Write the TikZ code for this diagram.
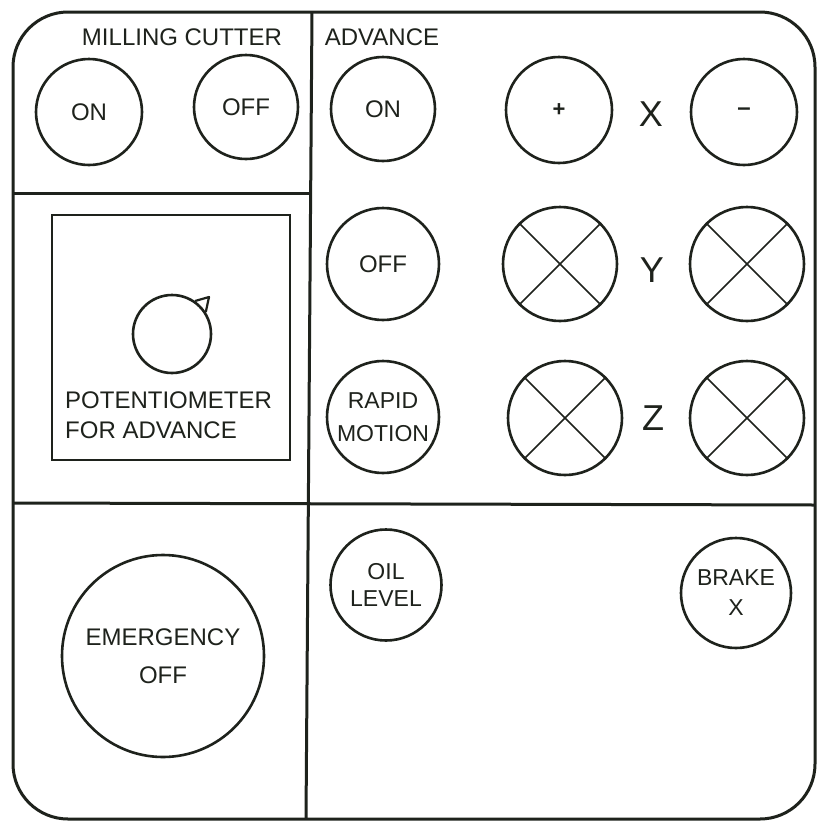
\documentclass[tikz,border=0pt]{standalone}
\usepackage{fontspec}
\setmainfont{Liberation Sans}
\definecolor{inkc}{RGB}{30,34,28}
\newcommand\lblfont{\fontsize{24}{28}\selectfont}
\newcommand\axfont{\fontsize{36}{40}\selectfont}
\begin{document}
\begin{tikzpicture}[x=1pt,y=-1pt,
  frame/.style={draw=inkc, line width=3pt},
  btn/.style={circle, draw=inkc, line width=2.6pt, inner sep=0pt, align=center, text=inkc, font=\lblfont},
  crossl/.style={draw=inkc, line width=1.5pt},
  lbl/.style={text=inkc, font=\lblfont, inner sep=0pt},
  axlbl/.style={text=inkc, font=\axfont, inner sep=0pt}]
\useasboundingbox (0,0) rectangle (820,823);
\fill[white] (0,0) rectangle (820,823);

% outer panel
\draw[frame, rounded corners=55pt] (13,12) rectangle (815,819);

% dividers
\coordinate (vt) at (312,12);
\coordinate (vb) at (306,819);
\coordinate (hl) at (13,503);
\coordinate (hr) at (815,505);
\coordinate (ml) at (13,193);
\coordinate (mr) at (311,193);
\draw[frame] (vt) -- (vb);
\draw[frame] (hl) -- (hr);
\draw[frame] (ml) -- (mr);

% milling cutter
\node[lbl] (mc) at (182,37) {MILLING CUTTER};
\node[btn, minimum size=106] (mon) at (89,112) {ON};
\node[btn, minimum size=104] (moff) at (246,107) {OFF};

% advance
\node[lbl] (adv) at (382,37) {ADVANCE};
\node[btn, minimum size=104] (aon) at (383,109) {ON};
\node[btn, minimum size=106, font=\fontsize{22}{26}\selectfont\bfseries] (xp) at (559,110) {+};
\node[axlbl] (xl) at (651,114) {X};
\node[btn, minimum size=106, font=\fontsize{24}{26}\selectfont\bfseries] (xm) at (744,112) {--};

\node[btn, minimum size=112] (aoff) at (383,264) {OFF};
\node[btn, minimum size=114] (yp) at (560,264) {};
\node[axlbl] (yl) at (652,270) {Y};
\node[btn, minimum size=114] (ym) at (747,264) {};

\node[btn, minimum size=112, font=\fontsize{23}{33}\selectfont] (rapid) at (383,417) {RAPID\\MOTION};
\node[btn, minimum size=114] (zp) at (565,418) {};
\node[axlbl] (zl) at (653,418) {Z};
\node[btn, minimum size=114] (zm) at (747,418) {};

\foreach \n in {yp,ym,zp,zm}{
  \draw[crossl] (\n.45) -- (\n.225);
  \draw[crossl] (\n.135) -- (\n.315);
}

% potentiometer
\node[draw=inkc, line width=2.8pt, minimum width=238, minimum height=245, inner sep=0pt] (pot) at (171,337.5) {};
\node[circle, draw=inkc, line width=2.6pt, minimum size=78, inner sep=0pt] (knob) at (172,334) {};
\coordinate (tip) at (209,297);
\draw[draw=inkc, line width=2.2pt, line join=round] (knob.55) -- (tip) -- (knob.33);
\node[lbl, anchor=base west] (pt1) at (65,408) {POTENTIOMETER};
\node[lbl, anchor=base west] (pt2) at (65,438) {FOR ADVANCE};

% emergency
\node[btn, minimum size=202, font=\fontsize{24}{38}\selectfont] (emg) at (163,656) {EMERGENCY\\OFF};

% oil level, brake
\node[btn, minimum size=111, font=\fontsize{23}{27}\selectfont] (oil) at (386,585) {OIL\\LEVEL};
\node[btn, minimum size=110, font=\fontsize{23}{30}\selectfont] (brake) at (736,593) {BRAKE\\X};
\end{tikzpicture}
\end{document}
